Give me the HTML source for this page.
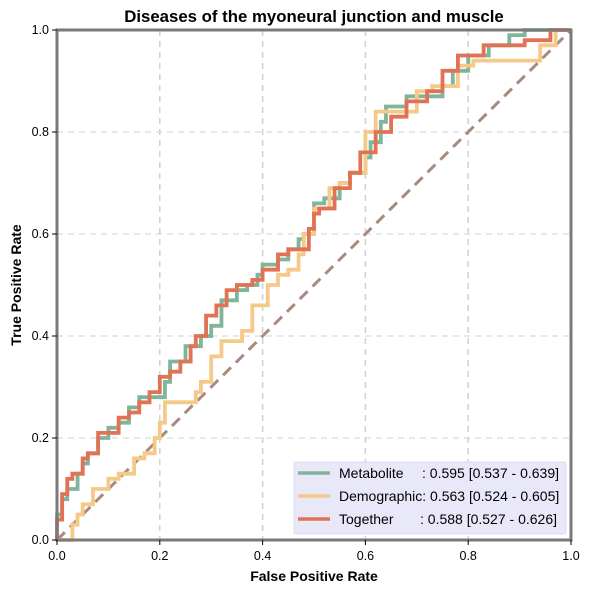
<!DOCTYPE html>
<html><head><meta charset="utf-8"><style>
html,body{margin:0;padding:0;background:#fff;}
svg{display:block;font-family:"Liberation Sans",Arial,sans-serif;}
</style></head><body>
<svg id="chart" width="591" height="592" viewBox="0 0 591 592" xmlns="http://www.w3.org/2000/svg">
<text x="314" y="22" text-anchor="middle" font-size="16.8" font-weight="bold">Diseases of the myoneural junction and muscle</text>
<g id="grid"></g>
<line x1="57" y1="540" x2="571" y2="30" stroke="#a88a7e" stroke-width="3" stroke-dasharray="11,7"/>
<g id="series"></g>
<rect x="57" y="30" width="514" height="510" fill="none" stroke="#7a7a7a" stroke-width="3"/>
<g id="axes"></g>
<text x="314" y="581" text-anchor="middle" font-size="14" font-weight="bold">False Positive Rate</text>
<text transform="translate(21,285) rotate(-90)" text-anchor="middle" font-size="14" font-weight="bold">True Positive Rate</text>
<g>
<rect x="294" y="462" width="272" height="72" rx="2" fill="#e9e8f8" stroke="#dcdcef"/>
<line x1="298" y1="473" x2="330" y2="473" stroke="#7fb59a" stroke-width="3.5"/>
<text x="339" y="478" font-size="14">Metabolite</text>
<text x="422" y="478" font-size="14">: 0.595 [0.537 - 0.639]</text>
<line x1="298" y1="496" x2="330" y2="496" stroke="#f5c987" stroke-width="3.5"/>
<text x="339" y="501" font-size="14">Demographic: 0.563 [0.524 - 0.605]</text>
<line x1="298" y1="519" x2="330" y2="519" stroke="#e07356" stroke-width="3.5"/>
<text x="339" y="524" font-size="14">Together</text>
<text x="420" y="524" font-size="14">: 0.588 [0.527 - 0.626]</text>
</g>
</svg>
<script>
const ticks=[0,0.2,0.4,0.6,0.8,1.0];
const tickLabels=["0.0","0.2","0.4","0.6","0.8","1.0"];
const metaFpr=[0,0.01,0.02,0.04,0.05,0.06,0.08,0.1,0.12,0.14,0.16,0.18,0.21,0.22,0.25,0.28,0.3,0.32,0.35,0.37,0.39,0.4,0.43,0.45,0.47,0.48,0.5,0.52,0.55,0.57,0.6,0.61,0.63,0.64,0.68,0.72,0.75,0.77,0.8,0.84,0.88,0.91,1];
const metaTpr=[0,0.05,0.08,0.1,0.13,0.15,0.17,0.2,0.22,0.23,0.26,0.28,0.28,0.31,0.35,0.38,0.4,0.42,0.47,0.49,0.5,0.52,0.54,0.55,0.57,0.59,0.6,0.66,0.67,0.7,0.72,0.75,0.78,0.82,0.85,0.87,0.87,0.89,0.92,0.95,0.97,0.99,1];
const demoFpr=[0,0.03,0.04,0.05,0.07,0.1,0.12,0.15,0.17,0.19,0.2,0.21,0.24,0.27,0.28,0.3,0.32,0.36,0.38,0.41,0.43,0.45,0.47,0.48,0.5,0.53,0.55,0.57,0.6,0.62,0.64,0.7,0.73,0.78,0.81,0.94,0.97,1];
const demoTpr=[0,0,0.03,0.05,0.07,0.1,0.12,0.13,0.16,0.17,0.2,0.23,0.27,0.27,0.29,0.31,0.36,0.39,0.41,0.46,0.5,0.52,0.53,0.56,0.6,0.65,0.69,0.7,0.72,0.8,0.84,0.84,0.88,0.89,0.93,0.94,0.97,1];
const togFpr=[0,0.01,0.02,0.03,0.05,0.06,0.08,0.1,0.12,0.14,0.16,0.18,0.2,0.22,0.24,0.26,0.27,0.29,0.31,0.33,0.35,0.38,0.4,0.43,0.45,0.49,0.5,0.51,0.54,0.57,0.59,0.62,0.65,0.68,0.72,0.75,0.78,0.83,0.91,0.96,1];
const togTpr=[0,0.04,0.09,0.12,0.13,0.16,0.17,0.21,0.21,0.24,0.25,0.27,0.29,0.32,0.33,0.35,0.38,0.40,0.44,0.46,0.49,0.5,0.51,0.53,0.56,0.57,0.61,0.64,0.65,0.69,0.72,0.76,0.8,0.83,0.86,0.88,0.92,0.95,0.97,0.98,1];
const X=v=>57+v*514, Y=v=>540-v*510;
const NS="http://www.w3.org/2000/svg";
const grid=document.getElementById('grid'), axes=document.getElementById('axes'), series=document.getElementById('series');
ticks.forEach((t,i)=>{
  if(t>0&&t<1){
    const gv=document.createElementNS(NS,'line');
    
    
    gv.setAttribute('x1',X(t));gv.setAttribute('x2',X(t));gv.setAttribute('y1',30);gv.setAttribute('y2',540);
    gv.setAttribute('stroke','#d0d0d0');gv.setAttribute('stroke-dasharray','6,5');gv.setAttribute('stroke-width','1.5');
    grid.appendChild(gv);
    const gh=document.createElementNS(NS,'line');
    
    
    gh.setAttribute('y1',Y(t));gh.setAttribute('y2',Y(t));gh.setAttribute('x1',57);gh.setAttribute('x2',571);
    gh.setAttribute('stroke','#d0d0d0');gh.setAttribute('stroke-dasharray','6,5');gh.setAttribute('stroke-width','1');
    grid.appendChild(gh);
  }
  const tx=document.createElementNS(NS,'line');
  
  
  tx.setAttribute('x1',X(t));tx.setAttribute('x2',X(t));tx.setAttribute('y1',540);tx.setAttribute('y2',545);tx.setAttribute('stroke','#000');
  axes.appendChild(tx);
  const lx=document.createElementNS(NS,'text');
  
  
  lx.setAttribute('x',X(t));lx.setAttribute('y',560);lx.setAttribute('text-anchor','middle');lx.setAttribute('font-size','12.5');
  lx.textContent=tickLabels[i];axes.appendChild(lx);
  const ty=document.createElementNS(NS,'line');
  
  
  ty.setAttribute('y1',Y(t));ty.setAttribute('y2',Y(t));ty.setAttribute('x1',52);ty.setAttribute('x2',57);ty.setAttribute('stroke','#000');
  axes.appendChild(ty);
  const ly=document.createElementNS(NS,'text');
  
  
  ly.setAttribute('x',49);ly.setAttribute('y',Y(t)+4);ly.setAttribute('text-anchor','end');ly.setAttribute('font-size','12.5');
  ly.textContent=tickLabels[i];axes.appendChild(ly);
});
function drawCurve(fx,ty,color,name){
  let d='M'+X(fx[0])+','+Y(ty[0]);
  for(let i=1;i<fx.length;i++){d+=' V'+Y(ty[i])+' H'+X(fx[i]);}
  const p=document.createElementNS(NS,'path');
  
  
  p.setAttribute('d',d);p.setAttribute('fill','none');p.setAttribute('stroke',color);p.setAttribute('stroke-width','3.8');
  series.appendChild(p);
}
drawCurve(metaFpr,metaTpr,'#7fb59a','metabolite-roc-curve');
drawCurve(demoFpr,demoTpr,'#f5c987','demographic-roc-curve');
drawCurve(togFpr,togTpr,'#e07356','together-roc-curve');
</script>
</body></html>
